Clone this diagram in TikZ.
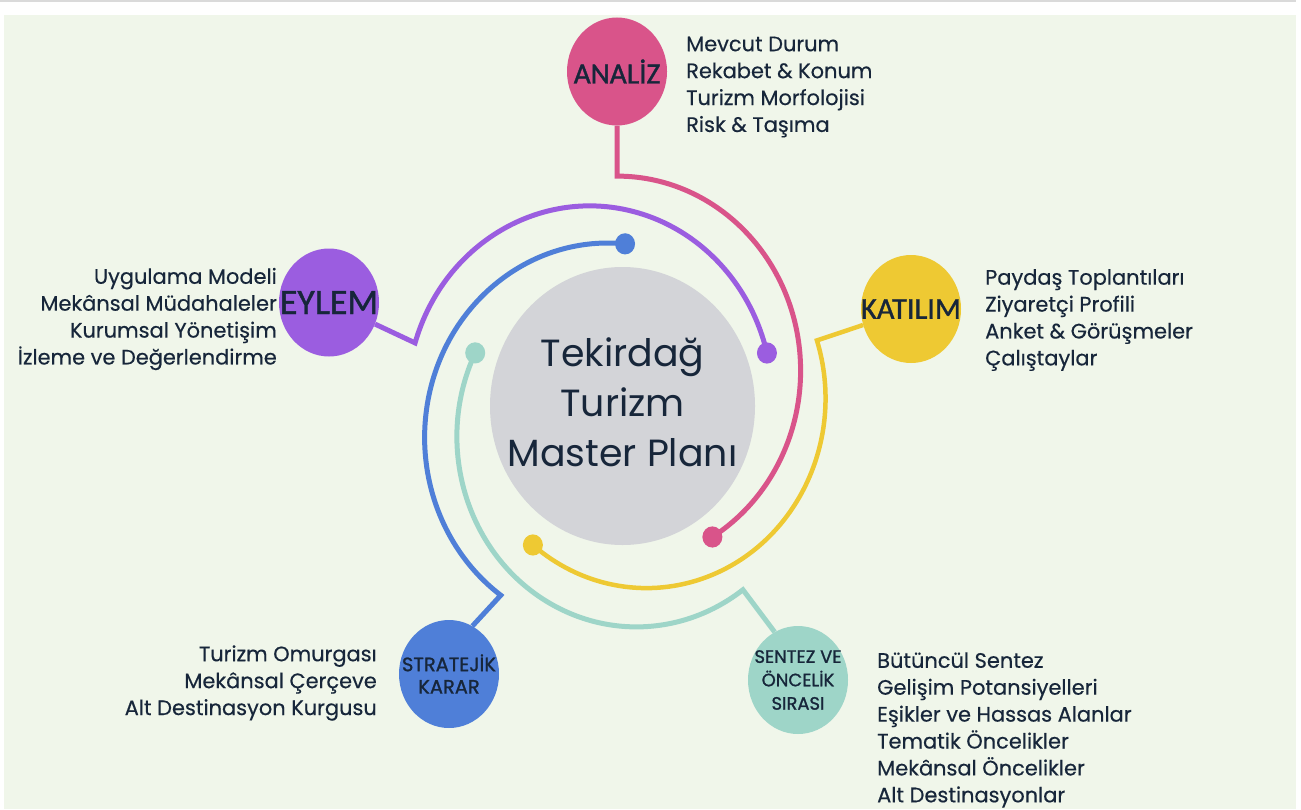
\documentclass[tikz,border=0pt]{standalone}
\usepackage{fontspec}
\setmainfont{Poppins}
\newfontfamily\carl{Carlito}[FakeBold=1.2]
\newfontfamily\popm{Poppins}[FakeBold=0.4]
\newfontfamily\popb{Poppins}[FakeBold=1.2]
\usetikzlibrary{shapes.geometric}
\definecolor{bgc}{HTML}{F0F6EA}
\definecolor{navy}{HTML}{17263A}
\definecolor{pinkc}{HTML}{D9548A}
\definecolor{purplec}{HTML}{9B5DE0}
\definecolor{yellowc}{HTML}{EEC933}
\definecolor{bluec}{HTML}{4F7FD8}
\definecolor{tealc}{HTML}{9ED5C8}
\definecolor{grayc}{HTML}{D3D4D8}
\definecolor{topline}{HTML}{DADADA}
\tikzset{
  phase/.style={ellipse, minimum width=100bp, minimum height=108bp, inner sep=0pt},
  plabel/.style={text=navy, align=center, inner sep=0pt},
  lst/.style={font=\popm\fontsize{21}{27}\selectfont, text=navy, inner sep=0pt},
  ring/.style={line width=5bp, line join=miter},
  dot/.style={x radius=10, y radius=10.6}
}
\begin{document}
\begin{tikzpicture}[x=1bp,y=-1bp]
\useasboundingbox (0,0) rectangle (1301,809);
\fill[white] (0,0) rectangle (1301,809);
\fill[bgc] (4,15) rectangle (1296,809);
\draw[topline, line width=2bp] (0,1) -- (1296,1);

% centre
\node[ellipse, fill=grayc, minimum width=265bp, minimum height=278bp, inner sep=0pt] (core) at (622.5,406) {};
\node[font=\fontsize{38}{50}\selectfont, text=navy, align=center] (title) at (622.5,402) {Tekirdağ\\Turizm\\Master Planı};

% phase circles
\node[phase, fill=pinkc, label={[plabel, font=\carl\fontsize{29.5}{29.5}\selectfont]center:ANALİZ}] (analiz) at (617,71.5) {};
\node[phase, fill=yellowc, label={[plabel, font=\carl\fontsize{30.5}{30.5}\selectfont]center:KATILIM}] (katilim) at (911,309) {};
\node[phase, fill=purplec, label={[plabel, font=\carl\fontsize{36}{36}\selectfont]center:EYLEM}] (eylem) at (329,302.5) {};
\node[phase, fill=bluec, label={[plabel, font=\popb\fontsize{19.5}{22.5}\selectfont]center:STRATEJİK\\KARAR}] (strat) at (449,674) {};
\node[phase, fill=tealc, label={[plabel, font=\popb\fontsize{18}{23.5}\selectfont]center:SENTEZ VE\\ÖNCELİK\\SIRASI}] (sentez) at (798,680) {};

% ring centres
\coordinate (pinkC) at (617,370.7);
\coordinate (purpleC) at (589.7,399.5);
\coordinate (blueC) at (608.1,437.5);
\coordinate (tealC) at (636.4,436.6);
\coordinate (yellowC) at (646.5,398.4);

\path (pinkC) ++(-90:183.6 and 194.6) coordinate (pinkTop);
\path (purpleC) ++(-163:182.6 and 193.6) coordinate (purpleCorner);
\path (blueC) ++(-84.7:183.5 and 194.5) coordinate (blueStart);
\path (tealC) ++(206.1:179.5 and 190.3) coordinate (tealStart);
\path (yellowC) ++(-17.8:179 and 189.7) coordinate (yellowCorner);

% rings
\draw[ring, pinkc] (analiz) -- (pinkTop) arc[start angle=-90, end angle=58.7, x radius=183.6, y radius=194.6] coordinate (pinkEnd);
\fill[pinkc] (pinkEnd) circle[dot];

\draw[ring, purplec] (eylem) -- (purpleCorner) arc[start angle=-163, end angle=-13.9, x radius=182.6, y radius=193.6] coordinate (purpleEnd);
\fill[purplec] (purpleEnd) circle[dot];

\draw[ring, bluec] (blueStart) arc[start angle=-84.7, end angle=-234.2, x radius=183.5, y radius=194.5] coordinate (blueKink) -- (strat.64);
\fill[bluec] (blueStart) circle[dot];

\draw[ring, tealc] (tealStart) arc[start angle=206.1, end angle=53.6, x radius=179.5, y radius=190.3] coordinate (tealKink) -- (sentez.116);
\fill[tealc] (tealStart) circle[dot];

\draw[ring, yellowc, line width=4.5bp] (katilim) -- (yellowCorner) arc[start angle=-17.8, end angle=129.4, x radius=179, y radius=189.7] coordinate (yellowEnd);
\fill[yellowc] (yellowEnd) circle[dot];

% lists
\node[lst, anchor=west, align=left] (lanaliz) at (686,87) {Mevcut Durum\\Rekabet \& Konum\\Turizm Morfolojisi\\Risk \& Taşıma};
\node[lst, anchor=west, align=left] (lkatilim) at (985,320) {Paydaş Toplantıları\\Ziyaretçi Profili\\Anket \& Görüşmeler\\Çalıştaylar};
\node[lst, anchor=east, align=right] (leylem) at (277,319) {Uygulama Modeli\\Mekânsal Müdahaleler\\Kurumsal Yönetişim\\İzleme ve Değerlendirme};
\node[lst, anchor=east, align=right] (lstrat) at (377,683) {Turizm Omurgası\\Mekânsal Çerçeve\\Alt Destinasyon Kurgusu};
\node[lst, anchor=west, align=left] (lsentez) at (877,730) {Bütüncül Sentez\\Gelişim Potansiyelleri\\Eşikler ve Hassas Alanlar\\Tematik Öncelikler\\Mekânsal Öncelikler\\Alt Destinasyonlar};
\end{tikzpicture}
\end{document}
